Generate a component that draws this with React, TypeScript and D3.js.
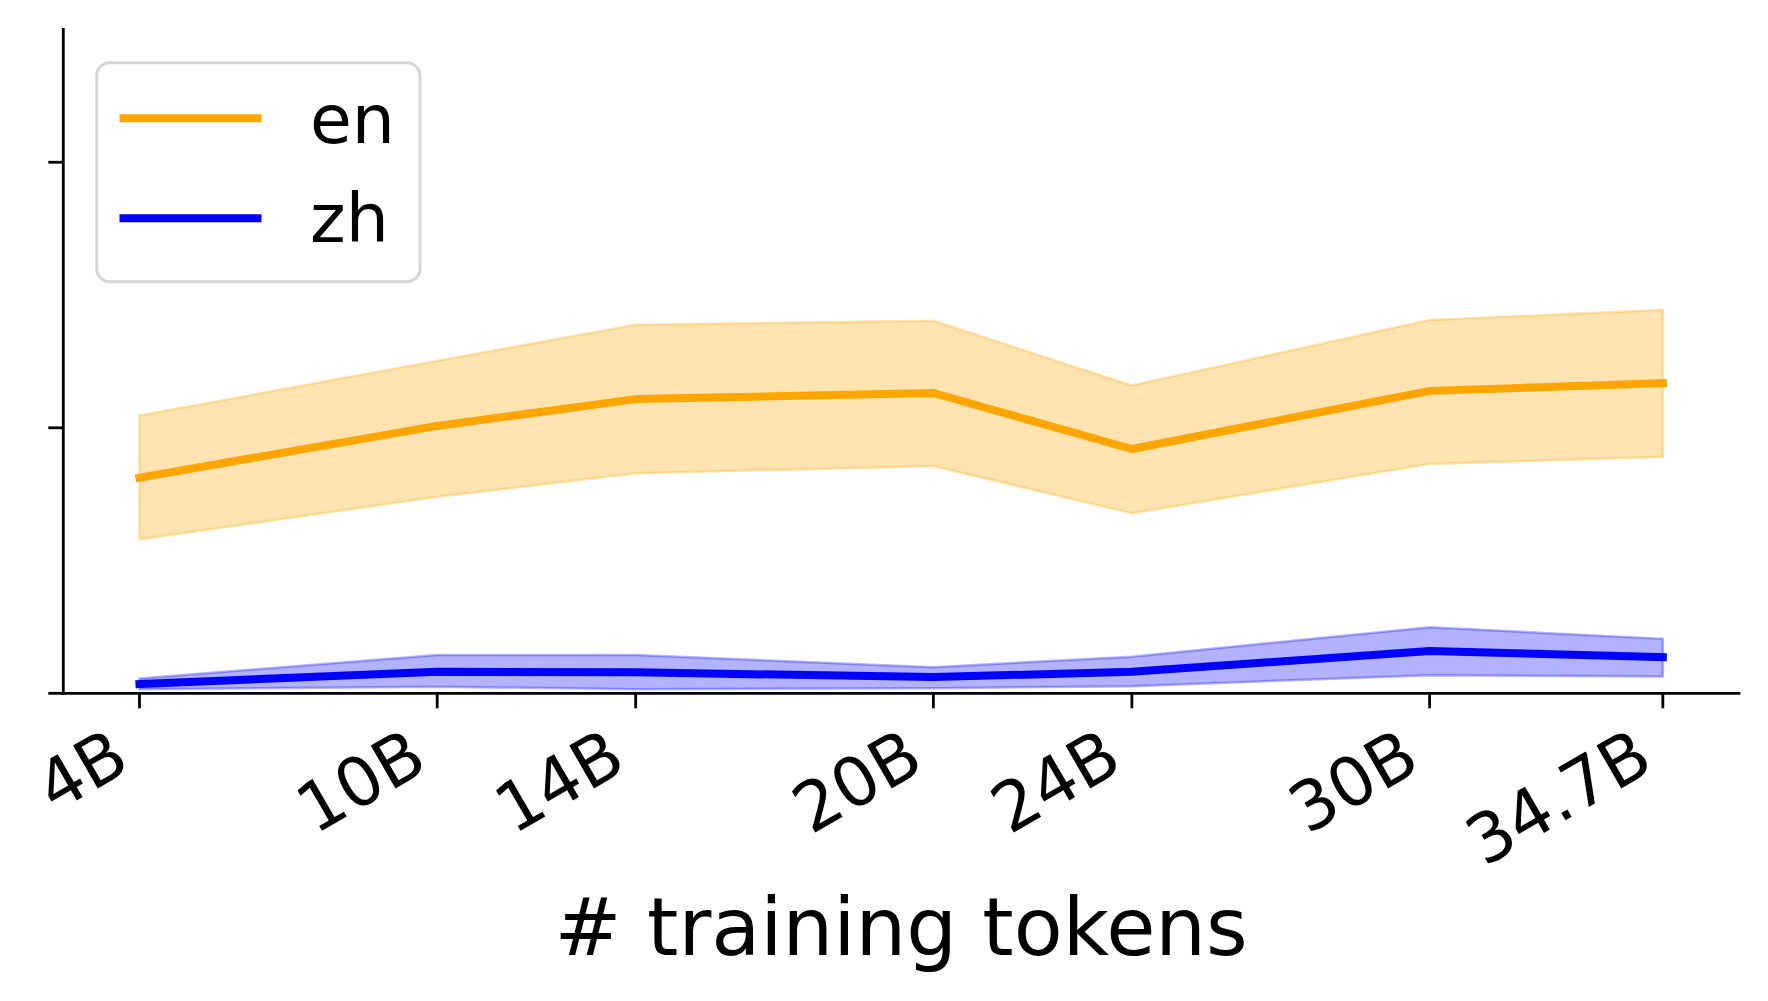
import React from "react";
import * as d3 from "d3";

// training tokens (billions) and their tick labels
const tokens = [4, 10, 14, 20, 24, 30, 34.7];
const tickLabels = ["4B", "10B", "14B", "20B", "24B", "30B", "34.7B"];

// en: mean with upper / lower band
const enMean = [0.812, 1.007, 1.108, 1.131, 0.92, 1.139, 1.168];
const enUpper = [1.046, 1.252, 1.388, 1.403, 1.159, 1.406, 1.444];
const enLower = [0.58, 0.74, 0.829, 0.856, 0.678, 0.864, 0.891];

// zh: mean with upper / lower band
const zhMean = [0.035, 0.081, 0.079, 0.061, 0.081, 0.159, 0.136];
const zhUpper = [0.056, 0.144, 0.144, 0.098, 0.138, 0.249, 0.205];
const zhLower = [0.015, 0.025, 0.015, 0.019, 0.027, 0.068, 0.063];

// y ticks have no labels in the original
const yTicks = [0, 1, 2];

const W = 1768;
const H = 1001;
const FONT = "'DejaVu Sans', sans-serif";

const App = () => {
  const x = d3.scaleLinear().domain([2.465, 36.235]).range([63.3, 1739]);
  const y = d3.scaleLinear().domain([0, 2.5]).range([693.3, 29.5]);

  const line = d3
    .line<number>()
    .x((d, i) => x(tokens[i]))
    .y((d) => y(d));

  const band = (lo: number[], hi: number[]) =>
    d3
      .area<number>()
      .x((d, i) => x(tokens[i]))
      .y0((d, i) => y(lo[i]))
      .y1((d, i) => y(hi[i]))(tokens);

  const series = [
    { name: "en", color: "#FFA500", mean: enMean, lo: enLower, hi: enUpper },
    { name: "zh", color: "#0000FF", mean: zhMean, lo: zhLower, hi: zhUpper },
  ];

  const x0 = y(0);

  return (
    <svg
      width={W}
      height={H}
      style={{ position: "absolute", left: 0, top: 0, background: "#fff" }}
      fontFamily={FONT}
    >
      {/* bands */}
      {series.map((s) => (
        <path
          key={s.name + "-band"}
          d={band(s.lo, s.hi) || ""}
          fill={s.color}
          fillOpacity={0.3}
          stroke={s.color}
          strokeOpacity={0.3}
          strokeWidth={2.5}
        />
      ))}
      {/* mean lines */}
      {series.map((s) => (
        <path
          key={s.name + "-line"}
          d={line(s.mean) || ""}
          fill="none"
          stroke={s.color}
          strokeWidth={8}
          strokeLinecap="square"
          strokeLinejoin="round"
        />
      ))}

      {/* axes */}
      <line x1={x.range()[0]} x2={x.range()[0]} y1={y(2.5)} y2={x0} stroke="#000" strokeWidth={2.8} strokeLinecap="square" />
      <line x1={x.range()[0]} x2={x.range()[1]} y1={x0} y2={x0} stroke="#000" strokeWidth={2.8} strokeLinecap="square" />
      {yTicks.map((t) => (
        <line key={"yt" + t} x1={x.range()[0] - 15} x2={x.range()[0]} y1={y(t)} y2={y(t)} stroke="#000" strokeWidth={2.8} />
      ))}
      {tokens.map((t, i) => (
        <g key={"xt" + t}>
          <line x1={x(t)} x2={x(t)} y1={x0} y2={x0 + 15} stroke="#000" strokeWidth={2.8} />
          <text
            transform={`translate(${x(t) - 7},${x0 + 75}) rotate(-30)`}
            textAnchor="end"
            fontSize={68}
            fill="#000"
          >
            {tickLabels[i]}
          </text>
        </g>
      ))}
      <text x={(x.range()[0] + x.range()[1]) / 2} y={955} textAnchor="middle" fontSize={80} fill="#000">
        # training tokens
      </text>

      {/* legend */}
      <rect x={96.7} y={62.7} width={323.3} height={219} rx={13} fill="#fff" fillOpacity={0.8} stroke="#d6d6d6" strokeWidth={3} />
      {series.map((s, i) => (
        <g key={s.name + "-leg"}>
          <line x1={123.5} x2={257.5} y1={118.3 + i * 100} y2={118.3 + i * 100} stroke={s.color} strokeWidth={8} strokeLinecap="square" />
          <text x={310} y={142.7 + i * 99} fontSize={68} fill="#000">
            {s.name}
          </text>
        </g>
      ))}
    </svg>
  );
};

export default App;
